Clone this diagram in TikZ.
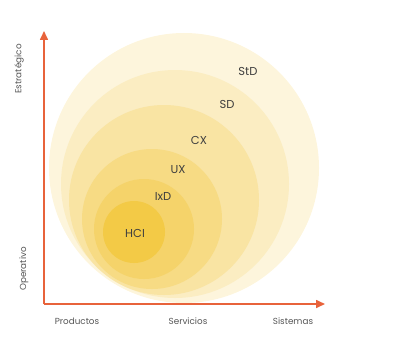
\documentclass[tikz,border=0pt]{standalone}
\usepackage{fontspec}
\setmainfont{Poppins}
\usetikzlibrary{arrows.meta}
\definecolor{axisc}{HTML}{E8633B}
\definecolor{txt}{HTML}{3F3F3F}
\definecolor{axtxt}{HTML}{555555}
\definecolor{cStD}{HTML}{FDF5DC}
\definecolor{cSD}{HTML}{FBEDC2}
\definecolor{cCX}{HTML}{F9E4A3}
\definecolor{cUX}{HTML}{F7DB84}
\definecolor{cIxD}{HTML}{F5D36A}
\definecolor{cHCI}{HTML}{F3CA46}
\tikzset{
  blob/.style={circle, inner sep=0pt, draw=none},
  lbl/.style={text=txt, font=\fontsize{11.5}{13}\selectfont, inner sep=0pt},
  axlbl/.style={text=axtxt, font=\fontsize{8.8}{10}\selectfont, inner sep=0pt},
  axis/.style={draw=axisc, line width=1.6pt, -{Triangle[length=9pt,width=8pt]}}
}
\begin{document}
\begin{tikzpicture}[x=1pt,y=-1pt]
\useasboundingbox (0,0) rectangle (403,361);
% circles
\node[blob, fill=cStD, minimum size=270pt] (bStD) at (184,168) {};
\node[blob, fill=cSD, minimum size=228pt] (bSD) at (175,184) {};
\node[blob, fill=cCX, minimum size=190pt] (bCX) at (164,200) {};
\node[blob, fill=cUX, minimum size=140pt] (bUX) at (152,219) {};
\node[blob, fill=cIxD, minimum size=100pt] (bIxD) at (144,229) {};
\node[blob, fill=cHCI, minimum size=62pt] (bHCI) at (134,232) {};
% labels
\node[lbl] (tStD) at (248,71) {StD};
\node[lbl] (tSD) at (227,104) {SD};
\node[lbl] (tCX) at (199,140) {CX};
\node[lbl] (tUX) at (178,170) {UX};
\node[lbl] (tIxD) at (163,196) {IxD};
\node[lbl] (tHCI) at (135,233) {HCI};
% axes
\coordinate (O) at (44,304);
\coordinate (ytop) at (44,31);
\coordinate (xend) at (325,304);
\draw[axis] (O) -- (ytop);
\draw[axis] (O) -- (xend);
\node[axlbl, rotate=90] (lStr) at (19,69) {Estratégico};
\node[axlbl, rotate=90] (lOp) at (24,269) {Operativo};
\node[axlbl] (lProd) at (77,321) {Productos};
\node[axlbl] (lServ) at (188,321) {Servicios};
\node[axlbl] (lSis) at (293,321) {Sistemas};
\end{tikzpicture}
\end{document}
